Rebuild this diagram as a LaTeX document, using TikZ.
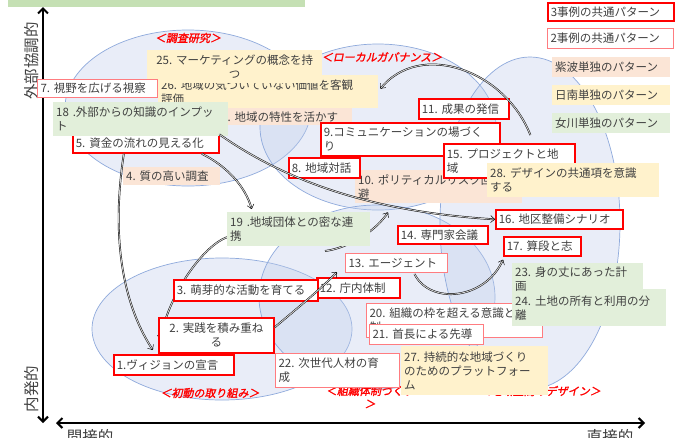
\documentclass[tikz,border=0pt]{standalone}
\usepackage{fontspec}
\setmainfont{Noto Sans CJK JP}
\newfontfamily\lblfont{Noto Sans CJK JP}[FakeSlant=0.2,FakeBold=1.5]
\usetikzlibrary{arrows.meta}
\definecolor{txt}{HTML}{404040}
\definecolor{redA}{HTML}{FF0000}
\definecolor{redB}{HTML}{FF7C80}
\definecolor{peach}{HTML}{FBE5D6}
\definecolor{yel}{HTML}{FFF2CC}
\definecolor{grn}{HTML}{E2EFDA}
\definecolor{hdr}{HTML}{C5E0B4}
\definecolor{ellfill}{RGB}{192,206,235}
\definecolor{elldraw}{HTML}{8FAADC}
\pgfdeclarelayer{back}
\pgfdeclarelayer{mid}
\pgfsetlayers{back,mid,main}
\newcommand{\bx}[7]{%
  \pgfmathsetmacro{\bxtw}{#5-6}%
  \node[#1, anchor=north west, minimum width=#5pt, minimum height=#6pt, text width=\bxtw pt] (#2) at (#3,#4) {#7};}
\tikzset{
  box/.style={inner xsep=3pt, inner ysep=0pt, font=\fontsize{11.5}{14}\selectfont, text=txt, align=left},
  bthree/.style={box, draw=redA, line width=1.7pt, fill=white},
  btwo/.style={box, draw=redB, line width=1pt, fill=white},
  bpeach/.style={box, fill=peach},
  byel/.style={box, fill=yel},
  bgrn/.style={box, fill=grn},
  ell/.style={fill=ellfill, fill opacity=0.35, draw=elldraw, draw opacity=1, line width=0.7pt},
  lbl/.style={text=redA, font=\lblfont\fontsize{11}{13}\selectfont, inner sep=0pt},
  axlbl/.style={text=txt, font=\fontsize{15.5}{17}\selectfont, inner sep=0pt},
  axis/.style={line width=2pt, black, {Straight Barb[length=5pt,width=10pt]}-{Straight Barb[length=5pt,width=10pt]}},
  conn/.style={draw=black, line width=0.45pt, double=gray!35, double distance=0.9pt, -{Straight Barb[length=4pt,width=7pt]}}
}
\begin{document}
\begin{tikzpicture}[x=1pt,y=-1pt]
\useasboundingbox (0,0) rectangle (695,437);
\clip (0,0) rectangle (695,437);
\begin{pgfonlayer}{back}
\fill[white] (0,0) rectangle (695,437);
\fill[hdr] (8,0) rectangle (305,7);
% ellipses
\draw[ell] (188,108) ellipse [x radius=123pt, y radius=78pt];
\draw[ell] (378,127) ellipse [x radius=118pt, y radius=83pt];
\draw[ell] (222,329) ellipse [x radius=130pt, y radius=71pt];
\draw[ell] (377,297) ellipse [x radius=118pt, y radius=92pt];
\draw[ell] (530,223) ellipse [x radius=90pt, y radius=166pt];
% group labels
\node[lbl] (gl1) at (188,38) {＜調査研究＞};
\node[lbl] (gl2) at (382,57) {＜ローカルガバナンス＞};
\node[lbl] (gl3) at (210,393) {＜初動の取り組み＞};
\node[lbl, align=center] (gl4) at (370,397) {＜組織体制づくり\\＞};
\node[lbl, anchor=east] (gl5) at (601,391) {＜地域空間のデザイン＞};
% axes
\coordinate (ytop) at (43,7);
\coordinate (ybot) at (43,423);
\coordinate (xlft) at (56,423);
\coordinate (xrgt) at (645,423);
\draw[axis] (ybot) -- (ytop);
\draw[axis] (xlft) -- (xrgt);
\node[axlbl, rotate=90] (ya) at (32,61) {外部協調的};
\node[axlbl, rotate=90] (yb) at (32,389) {内発的};
\node[axlbl] (xa) at (90,437) {間接的};
\node[axlbl] (xb) at (610,437) {直接的};
\end{pgfonlayer}
% boxes
\bx{byel}{n26}{158}{75}{220}{33}{26.~地域の気づいていない価値を客観\\評価}
\bx{byel, align=center}{n25}{147}{50}{175}{33}{25.~マーケティングの概念を持\\つ}
\bx{btwo}{n7}{37}{79}{120}{18}{7.~視野を広げる視察}
\bx{bpeach}{n6}{218}{108}{134}{17}{6.~地域の特性を活かす}
\bx{bthree}{n5}{72}{133}{146}{19}{5.~資金の流れの見える化}
\bx{bgrn}{n18}{53}{102}{175}{34}{18~.外部からの知識のインプッ\\ト}
\bx{bpeach}{n4}{123}{167}{97}{18}{4.~質の高い調査}
\bx{bthree}{n9}{320}{122}{179}{33}{9.コミュニケーションの場づく\\り}
\bx{bthree}{n11}{418}{98}{90}{20}{11.~成果の発信}
\bx{bpeach}{n10}{355}{170}{167}{33}{10.~ポリティカルリスク回\\避}
\bx{bthree}{n8}{288}{157}{71}{20}{8.~地域対話}
\bx{bthree}{n15}{443}{143}{131}{34}{15.~プロジェクトと地\\域}
\bx{byel}{n28}{487}{163}{172}{34}{28.~デザインの共通項を意識\\する}
\bx{bthree}{n16}{495}{209}{127}{19}{16.~地区整備シナリオ}
\bx{bthree}{n14}{397}{225}{90}{18}{14.~専門家会議}
\bx{bthree}{n17}{503}{236}{77}{19}{17.~算段と志}
\bx{btwo}{n13}{345}{253}{102}{19}{13.~エージェント}
\bx{bgrn}{n19}{227}{212}{143}{34}{19~.地域団体との密な連\\携}
\bx{bthree}{n12}{316}{277}{83}{20}{12.~庁内体制}
\bx{bthree}{n3}{173}{279}{144}{21}{3.~萌芽的な活動を育てる}
\bx{bthree, align=center}{n2}{158}{317}{115}{35}{2.~実践を積み重ね\\る}
\bx{bthree}{n1}{113}{354}{120}{20}{1.ヴィジョンの宣言}
\bx{btwo}{n22}{275}{353}{124}{34}{22.~次世代人材の育\\成}
\bx{btwo}{n20}{366}{303}{176}{34}{20.~組織の枠を超える意識と体\\制}
\bx{btwo}{n21}{369}{324}{114}{20}{21.~首長による先導}
\bx{byel}{n27}{401}{346}{147}{49}{27.~持続的な地域づくり\\のためのプラットフォー\\ム}
\bx{bgrn}{n24}{512}{289}{154}{37}{24.~土地の所有と利用の分\\離}
\bx{bgrn}{n23}{512}{263}{131}{32}{23.~身の丈にあった計\\画}
% legend
\bx{bthree}{lg3}{547}{2}{126}{18}{3事例の共通パターン}
\bx{btwo}{lg2}{547}{28}{126}{20}{2事例の共通パターン}
\bx{bpeach}{lgs}{552}{57}{118}{20}{紫波単独のパターン}
\bx{byel}{lgn}{552}{85}{118}{20}{日南単独のパターン}
\bx{bgrn}{lgo}{552}{113}{118}{20}{女川単独のパターン}
% connectors under boxes
\begin{pgfonlayer}{mid}
\draw[conn] ([yshift=-8pt]n19.west) .. controls (205,245) and (170,290) .. ([xshift=2pt,yshift=-23pt]n2.north west);
\coordinate (fstart) at (325,251);
\draw[conn] (fstart) .. controls (348,248) and (375,232) .. ([xshift=33pt,yshift=-9pt]n10.south west);
\end{pgfonlayer}
% connectors over boxes
\draw[conn] ([xshift=-22pt]n5.south) .. controls (112,230) and (120,300) .. ([xshift=-21pt,yshift=4pt]n1.north);
\draw[conn] ([xshift=-18pt]n5.south east) .. controls (225,165) and (245,185) .. ([xshift=-47pt,yshift=3pt]n19.north);
\draw[conn] ([xshift=-9pt,yshift=2pt]n18.south east) .. controls (289,183) and (375,212) .. (n16.west);
\draw[conn] ([yshift=8pt]n2.east) .. controls (295,310) and (320,290) .. ([xshift=-8pt,yshift=1pt]n13.south west);
\draw[conn] ([xshift=18pt,yshift=-1pt]n13.south) .. controls (430,305) and (485,300) .. ([yshift=-3pt]n17.south west);
\draw[conn] ([xshift=21pt,yshift=8pt]n15.north) .. controls (505,70) and (420,40) .. ([xshift=2pt,yshift=3pt]n26.east);
\end{tikzpicture}
\end{document}
